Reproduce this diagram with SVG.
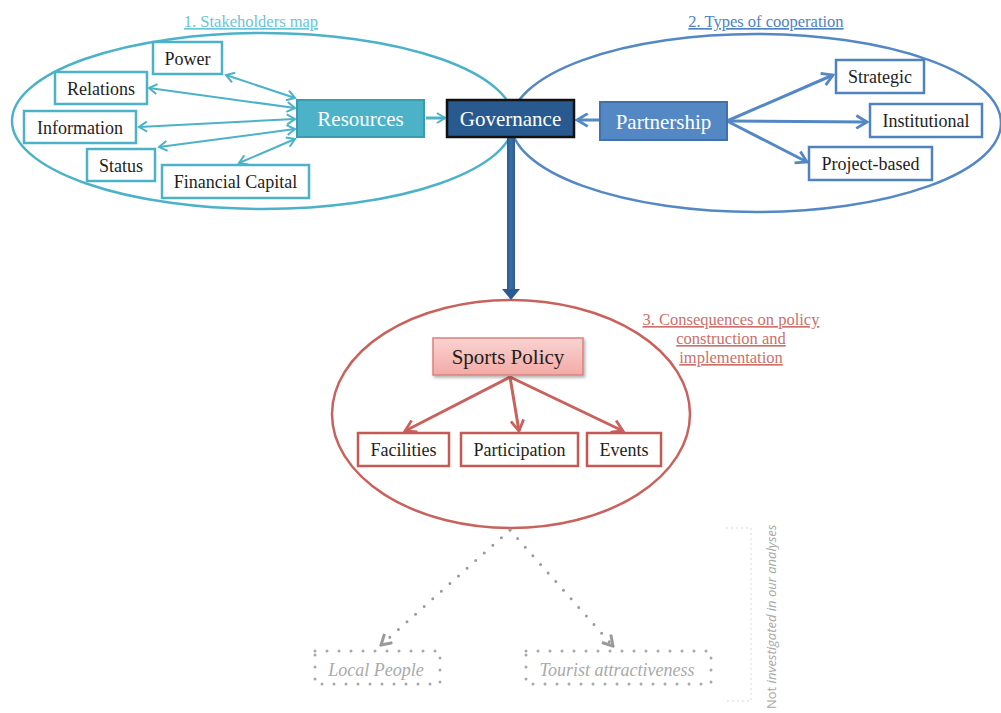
<svg xmlns="http://www.w3.org/2000/svg" width="1001" height="713" viewBox="0 0 1001 713">
  <defs>
    <style>
      text { font-family: "Liberation Serif", "Times New Roman", serif; }
      .lbl { font-size: 18px; fill: #1e1e1e; text-anchor: middle; }
      .hdr { font-size: 21px; fill: #ffffff; text-anchor: middle; }
      .title { font-size: 16.5px; text-decoration: underline; }
      .cy-box { fill: #ffffff; stroke: #4bb2c8; stroke-width: 2.5; }
      .bl-box { fill: #ffffff; stroke: #4f83c0; stroke-width: 2.5; }
      .rd-box { fill: #ffffff; stroke: #c55a55; stroke-width: 2.5; }
      .cy-line { fill: none; stroke: #4bb2c8; stroke-width: 2; }
      .bl-line { fill: none; stroke: #5488c4; stroke-width: 3; }
      .rd-line { fill: none; stroke: #c9625d; stroke-width: 3; }
      .dot-line { fill: none; stroke: #9a9a9a; stroke-width: 3; stroke-linecap: round; stroke-dasharray: 0 11.5; }
      .dot-box { fill: none; stroke: #a8a8a8; stroke-width: 3; stroke-linecap: round; stroke-dasharray: 0 12; }
      .faint { fill: none; stroke: #cfcfcf; stroke-width: 1.5; stroke-linecap: round; stroke-dasharray: 0 5; }
      .ghost { font-size: 18px; font-style: italic; fill: #aaaaaa; text-anchor: middle; }
    </style>
    <marker id="arrCy" viewBox="0 0 12 12" refX="10" refY="6" markerWidth="12" markerHeight="12" markerUnits="userSpaceOnUse" orient="auto-start-reverse">
      <path d="M2,1 L10,6 L2,11" fill="none" stroke="#4bb2c8" stroke-width="2"/>
    </marker>
    <marker id="arrBl" viewBox="0 0 14 14" refX="12" refY="7" markerWidth="15" markerHeight="15" markerUnits="userSpaceOnUse" orient="auto">
      <path d="M2,1 L12,7 L2,13" fill="none" stroke="#5488c4" stroke-width="2.6"/>
    </marker>
    <marker id="arrRd" viewBox="0 0 14 14" refX="12" refY="7" markerWidth="15" markerHeight="15" markerUnits="userSpaceOnUse" orient="auto">
      <path d="M2,1 L12,7 L2,13" fill="none" stroke="#c9625d" stroke-width="2.6"/>
    </marker>
    <marker id="arrGr" viewBox="0 0 14 14" refX="12" refY="7" markerWidth="14" markerHeight="14" markerUnits="userSpaceOnUse" orient="auto">
      <path d="M2,1 L12,7 L2,13" fill="none" stroke="#9a9a9a" stroke-width="3"/>
    </marker>
    <linearGradient id="pink" x1="0" y1="0" x2="0" y2="1">
      <stop offset="0" stop-color="#f9d3d1"/>
      <stop offset="1" stop-color="#f3aaa6"/>
    </linearGradient>
    <linearGradient id="shaft" x1="0" y1="0" x2="1" y2="0">
      <stop offset="0" stop-color="#2b5b91"/>
      <stop offset="0.5" stop-color="#3a6fa8"/>
      <stop offset="1" stop-color="#2b5b91"/>
    </linearGradient>
    <filter id="shadow" x="-10%" y="-20%" width="130%" height="150%">
      <feDropShadow dx="1.5" dy="2" stdDeviation="1.5" flood-color="#000" flood-opacity="0.3"/>
    </filter>
  </defs>

  <rect width="1001" height="713" fill="#ffffff"/>

  <!-- grouping ellipses -->
  <g id="areas">
    <ellipse cx="263" cy="121" rx="251" ry="88" fill="none" stroke="#4bb2c8" stroke-width="2.5"/>
    <ellipse cx="756" cy="123" rx="245" ry="89" fill="none" stroke="#5488c4" stroke-width="2.5"/>
    <ellipse cx="511" cy="414" rx="179" ry="114" fill="none" stroke="#c9625d" stroke-width="2.5"/>
  </g>

  <!-- section titles -->
  <g id="titles">
    <text class="title" x="251" y="27" text-anchor="middle" fill="#6cc3d8">1. Stakeholders map</text>
    <text class="title" x="766" y="27" text-anchor="middle" fill="#5082bf">2. Types of cooperation</text>
    <text class="title" text-anchor="middle" fill="#cc706b"><tspan x="731" y="325">3. Consequences on policy</tspan><tspan x="731" y="344">construction and</tspan><tspan x="731" y="363">implementation</tspan></text>
  </g>

  <!-- connectors -->
  <g id="connectors">
    <line class="cy-line" x1="226" y1="75" x2="295" y2="98" marker-start="url(#arrCy)" marker-end="url(#arrCy)"/>
    <line class="cy-line" x1="149" y1="88" x2="295" y2="108" marker-start="url(#arrCy)" marker-end="url(#arrCy)"/>
    <line class="cy-line" x1="139" y1="127" x2="295" y2="119" marker-start="url(#arrCy)" marker-end="url(#arrCy)"/>
    <line class="cy-line" x1="159" y1="147" x2="295" y2="129" marker-start="url(#arrCy)" marker-end="url(#arrCy)"/>
    <line class="cy-line" x1="239" y1="163" x2="295" y2="139" marker-start="url(#arrCy)" marker-end="url(#arrCy)"/>
    <line x1="426" y1="118" x2="445" y2="118" stroke="#4bb2c8" stroke-width="3" marker-end="url(#arrCy)"/>
    <line x1="599" y1="120" x2="577" y2="120" stroke="#5488c4" stroke-width="3" marker-end="url(#arrBl)"/>
    <line class="bl-line" x1="727" y1="121" x2="833" y2="75" marker-end="url(#arrBl)"/>
    <line class="bl-line" x1="727" y1="121" x2="867" y2="122" marker-end="url(#arrBl)"/>
    <line class="bl-line" x1="727" y1="121" x2="807" y2="162" marker-end="url(#arrBl)"/>
    <!-- governance to policy -->
    <rect x="507" y="138" width="8" height="152" fill="url(#shaft)"/>
    <path d="M502,289 L520,289 L511,300 Z" fill="#2b5b91"/>
    <line class="rd-line" x1="510" y1="377" x2="405" y2="431" marker-end="url(#arrRd)"/>
    <line class="rd-line" x1="510" y1="377" x2="519" y2="431" marker-end="url(#arrRd)"/>
    <line class="rd-line" x1="510" y1="377" x2="623" y2="431" marker-end="url(#arrRd)"/>
    <line class="dot-line" x1="510" y1="530" x2="381" y2="645" marker-end="url(#arrGr)"/>
    <line class="dot-line" x1="510" y1="530" x2="613" y2="646" marker-end="url(#arrGr)"/>
  </g>

  <!-- stakeholder resources -->
  <g id="power"><rect class="cy-box" x="153" y="42" width="69" height="32"/><text class="lbl" x="187.5" y="64.5">Power</text></g>
  <g id="relations"><rect class="cy-box" x="55" y="72" width="92" height="32"/><text class="lbl" x="101" y="94.5">Relations</text></g>
  <g id="information"><rect class="cy-box" x="24" y="111" width="112" height="32"/><text class="lbl" x="80" y="133.5">Information</text></g>
  <g id="status"><rect class="cy-box" x="87" y="149" width="68" height="32"/><text class="lbl" x="121" y="171.5">Status</text></g>
  <g id="financial-capital"><rect class="cy-box" x="162" y="165" width="147" height="33"/><text class="lbl" x="235.5" y="188">Financial Capital</text></g>

  <g id="resources"><rect x="297" y="100" width="127" height="37" fill="#4bb2c8" stroke="#3a9ab2" stroke-width="2"/><text class="hdr" x="360.5" y="126">Resources</text></g>
  <g id="governance"><rect x="447" y="100" width="127" height="37" fill="#285a8f" stroke="#111" stroke-width="2.5"/><text class="hdr" x="510.5" y="126">Governance</text></g>
  <g id="partnership"><rect x="600" y="102" width="127" height="38" fill="#5488c4" stroke="#3f71ab" stroke-width="2"/><text class="hdr" x="663.5" y="128.5">Partnership</text></g>

  <!-- cooperation types -->
  <g id="strategic"><rect class="bl-box" x="836" y="60" width="88" height="33"/><text class="lbl" x="880" y="83">Strategic</text></g>
  <g id="institutional"><rect class="bl-box" x="870" y="104" width="112" height="33"/><text class="lbl" x="926" y="127">Institutional</text></g>
  <g id="project-based"><rect class="bl-box" x="809" y="147" width="123" height="33"/><text class="lbl" x="870.5" y="170">Project-based</text></g>

  <!-- policy -->
  <g id="sports-policy"><rect x="433" y="338" width="150" height="37" fill="url(#pink)" stroke="#d9827d" stroke-width="1.5" filter="url(#shadow)"/><text class="lbl" x="508" y="364" style="font-size:21px">Sports Policy</text></g>
  <g id="facilities"><rect class="rd-box" x="358" y="433" width="91" height="33"/><text class="lbl" x="403.5" y="456">Facilities</text></g>
  <g id="participation"><rect class="rd-box" x="461" y="433" width="117" height="33"/><text class="lbl" x="519.5" y="456">Participation</text></g>
  <g id="events"><rect class="rd-box" x="587" y="433" width="74" height="33"/><text class="lbl" x="624" y="456">Events</text></g>

  <!-- outcomes outside the analysis -->
  <g id="local-people"><rect class="dot-box" x="315" y="651" width="125" height="33"/><text class="ghost" x="376" y="676">Local People</text></g>
  <g id="tourist-attractiveness"><rect class="dot-box" x="526" y="651" width="185" height="33"/><text class="ghost" x="617" y="676">Tourist attractiveness</text></g>

  <g id="scope-note">
    <path class="faint" d="M727,528 L751,528 L751,701 L727,701"/>
    <text transform="translate(776,709) rotate(-90)" style="font-family:'Open Sans','DejaVu Sans',sans-serif;font-size:13px;fill:#a8a8a8">Not <tspan font-style="italic">investigated in our analyses</tspan></text>
  </g>
</svg>
